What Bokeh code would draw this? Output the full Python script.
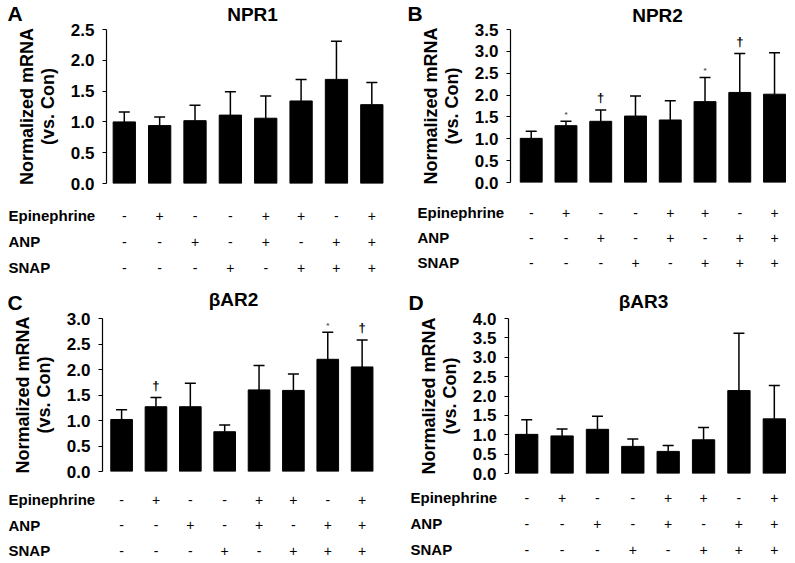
from bokeh.plotting import figure
from bokeh.models import (Range1d, ColumnDataSource, Whisker, TeeHead,
                          SingleIntervalTicker, NumeralTickFormatter)
from bokeh.layouts import column, row
from bokeh.embed import file_html
from bokeh.resources import INLINE
from bokeh.core.properties import value

# ---------------- data ----------------
groups = [1, 2, 3, 4, 5, 6, 7, 8]
treatment_names = ["Epinephrine", "ANP", "SNAP"]
epinephrine = ["-", "+", "-", "-", "+", "+", "-", "+"]
anp = ["-", "-", "+", "-", "+", "-", "+", "+"]
snap = ["-", "-", "-", "+", "-", "+", "+", "+"]

npr1_mean = [1.00, 0.94, 1.02, 1.11, 1.06, 1.34, 1.69, 1.28]
npr1_sem = [0.16, 0.14, 0.25, 0.38, 0.36, 0.35, 0.62, 0.36]
npr1_sig = ["", "", "", "", "", "", "", ""]

npr2_mean = [1.01, 1.30, 1.40, 1.52, 1.43, 1.85, 2.06, 2.02]
npr2_sem = [0.16, 0.10, 0.26, 0.46, 0.44, 0.55, 0.89, 0.95]
npr2_sig = ["", "*", "†", "", "", "*", "†", ""]

bar2_mean = [1.02, 1.27, 1.27, 0.78, 1.60, 1.59, 2.20, 2.05]
bar2_sem = [0.19, 0.18, 0.46, 0.13, 0.48, 0.32, 0.53, 0.53]
bar2_sig = ["", "†", "", "", "", "", "*", "†"]

bar3_mean = [1.01, 0.97, 1.14, 0.70, 0.57, 0.87, 2.14, 1.41]
bar3_sem = [0.38, 0.18, 0.34, 0.19, 0.15, 0.32, 1.48, 0.86]
bar3_sig = ["", "", "", "", "", "", "", ""]

y_title = "Normalized mRNA\n(vs. Con)"
FONT = "Liberation Sans"


def bare(fig):
    fig.outline_line_color = None
    fig.xgrid.visible = False
    fig.ygrid.visible = False
    fig.background_fill_color = "white"
    fig.border_fill_color = "white"
    fig.frame_align = False
    return fig


def make_panel(letter, title, means, sems, sigs, ymax, g):
    w = g["w"]
    # ---- header (panel letter and title) ----
    hh = g["hh"]
    hdr = bare(figure(width=w, height=hh, output_backend="svg", toolbar_location=None,
                      x_axis_location=None, y_axis_location=None,
                      x_range=Range1d(0, w), y_range=Range1d(hh, 0),
                      min_border_left=0, min_border_right=0,
                      min_border_top=0, min_border_bottom=0))
    hdr.text(x=[g["lx"]], y=[g["ly"]], text=[letter], text_align="left",
             text_baseline="middle", text_font=value(FONT),
             text_font_style="bold", text_font_size="21px", text_color="black")
    hdr.text(x=[g["tx"]], y=[g["ty"]], text=[title], text_align="center",
             text_baseline="middle", text_font=value(FONT),
             text_font_style="bold", text_font_size="19px", text_color="black")

    # ---- bar chart ----
    upper = [m + s for m, s in zip(means, sems)]
    sig_off = [-12 if s == "†" else -7 for s in sigs]
    sig_size = ["13px" if s == "†" else "8px" for s in sigs]
    sig_col = ["black" if s == "†" else "#555555" for s in sigs]
    src = ColumnDataSource(dict(x=groups, mean=means, upper=upper, sig=sigs,
                                off=sig_off, fs=sig_size, col=sig_col))

    x0, x1 = g["xr"]
    p = bare(figure(width=w, height=g["h"], output_backend="svg",
                    toolbar_location=None, x_axis_location=None,
                    x_range=Range1d(x0, x1), y_range=Range1d(0, ymax),
                    min_border_left=g["bl"], min_border_right=g["br"],
                    min_border_top=g["bt"], min_border_bottom=g["bb"]))

    ax = p.yaxis[0]
    ax.bounds = (0, ymax)
    ax.ticker = SingleIntervalTicker(interval=0.5)
    ax.formatter = NumeralTickFormatter(format="0.0")
    ax.minor_tick_line_color = None
    ax.major_tick_in = 0
    ax.major_tick_out = 4
    ax.major_tick_line_color = "black"
    ax.major_tick_line_width = 1.2
    ax.axis_line_color = "black"
    ax.axis_line_width = 1.2
    ax.major_label_standoff = 8
    ax.major_label_text_font = FONT
    ax.major_label_text_font_style = "bold"
    ax.major_label_text_font_size = "17px"
    ax.major_label_text_color = "black"
    ax.axis_label = y_title
    ax.axis_label_standoff = 10
    ax.axis_label_text_font = FONT
    ax.axis_label_text_font_style = "bold"
    ax.axis_label_text_font_size = "18px"
    ax.axis_label_text_line_height = 1.05
    ax.axis_label_text_color = "black"

    p.vbar(x="x", top="mean", bottom=0, width=0.63, source=src,
           fill_color="black", line_color="black")
    p.add_layout(Whisker(base="x", lower="mean", upper="upper", source=src,
                         dimension="height", line_color="black", line_width=1.5,
                         upper_head=TeeHead(size=11, line_color="black", line_width=1.5),
                         lower_head=None))
    p.text(x="x", y="upper", text="sig", source=src, y_offset="off",
           text_align="center", text_baseline="middle",
           text_font=value(FONT), text_font_style="bold",
           text_font_size="fs", text_color="col")

    # ---- treatment table (frame spans whole width, aligned with bars) ----
    pxu = (w - g["bl"] - g["br"]) / (x1 - x0)
    tx0 = x0 - g["bl"] / pxu
    tx1 = x1 + g["br"] / pxu
    sp, top, th = g["rs"], g["rt"], g["th"]
    t = bare(figure(width=w, height=th, output_backend="svg",
                    toolbar_location=None, x_axis_location=None, y_axis_location=None,
                    x_range=Range1d(tx0, tx1),
                    y_range=Range1d((th - top) / sp, -top / sp),
                    min_border_left=0, min_border_right=0,
                    min_border_top=0, min_border_bottom=0))
    xs, ys, txt = [], [], []
    for r, signs in enumerate([epinephrine, anp, snap]):
        for xg, s in zip(groups, signs):
            xs.append(xg)
            ys.append(r)
            txt.append(s)
    t.text(x=xs, y=ys, text=txt, text_align="center", text_baseline="middle",
           text_font=value(FONT), text_font_size="14px", text_color="black")
    t.text(x=[tx0] * len(treatment_names), y=list(range(len(treatment_names))),
           text=treatment_names, x_offset=g["rx"], text_align="left",
           text_baseline="middle", text_font=value(FONT), text_font_style="bold",
           text_font_size="15px", text_color="black")
    return column(hdr, p, t, spacing=0)


gA = dict(w=400, hh=22, h=173, bl=106, br=8, bt=7, bb=12, xr=(0.497, 8.585),
          th=85, rt=20, rs=26, rx=8, tx=252, ty=14, lx=7, ly=13)
gB = dict(w=395, hh=22, h=173, bl=110, br=8, bt=7, bb=13, xr=(0.404, 8.373),
          th=85, rt=17, rs=25, rx=17, tx=257, ty=14.5, lx=7, ly=13)
gC = dict(w=400, hh=31, h=169, bl=102, br=8, bt=7, bb=9, xr=(0.444, 8.884),
          th=83, rt=19, rs=25.5, rx=8, tx=233, ty=19, lx=7, ly=22)
gD = dict(w=395, hh=31, h=169, bl=108, br=8, bt=7, bb=7, xr=(0.485, 8.373),
          th=83, rt=17, rs=26, rx=10, tx=243, ty=21, lx=8, ly=22)

pA = make_panel("A", "NPR1", npr1_mean, npr1_sem, npr1_sig, 2.5, gA)
pB = make_panel("B", "NPR2", npr2_mean, npr2_sem, npr2_sig, 3.5, gB)
pC = make_panel("C", "βAR2", bar2_mean, bar2_sem, bar2_sig, 3.0, gC)
pD = make_panel("D", "βAR3", bar3_mean, bar3_sem, bar3_sig, 4.0, gD)

layout = column(row(pA, pB, spacing=0), row(pC, pD, spacing=0), spacing=0)
open("out.html", "w").write(file_html(layout, INLINE))
